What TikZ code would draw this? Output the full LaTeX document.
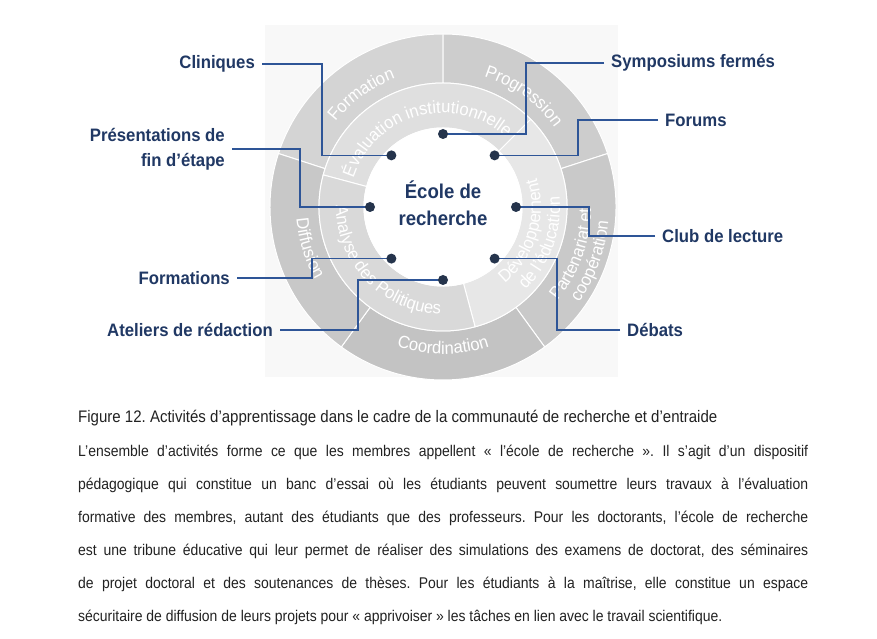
\documentclass[tikz,border=0pt]{standalone}
\usepackage{fontspec}
\setmainfont{Liberation Sans}
\newfontfamily\labelfont{Liberation Sans}[FakeStretch=0.93]
\newfontfamily\ringfont{Liberation Sans}[FakeStretch=0.95]
\newfontfamily\narrowfont{Liberation Sans}[FakeStretch=0.9]
\usetikzlibrary{calc}
\usetikzlibrary{decorations.text}
\frenchspacing

\definecolor{navy}{HTML}{203864}
\definecolor{wireblue}{HTML}{2E5597}
\definecolor{dotnavy}{HTML}{25344C}
\definecolor{panelgrey}{HTML}{F8F8F8}
\definecolor{bodygrey}{HTML}{222222}
\definecolor{formgrey}{HTML}{D4D4D4}
\definecolor{proggrey}{HTML}{CDCDCD}
\definecolor{partgrey}{HTML}{C9C9C9}
\definecolor{coordgrey}{HTML}{C3C3C3}
\definecolor{diffgrey}{HTML}{C8C8C8}
\definecolor{evalgrey}{HTML}{DFDFDF}
\definecolor{devgrey}{HTML}{E7E7E7}
\definecolor{polgrey}{HTML}{D9D9D9}

% text bent along a ring: radius, start, end, text
\newcommand\ringlabel[4]{%
  \path[decorate,decoration={text along path,text align=center,text color=white,
      text={|\ringfont\fontsize{17.5}{20}\selectfont|#4}}]
    ($(C)+(#2:#1)$) arc[start angle=#2,end angle=#3,radius=#1];}

\begin{document}
\begin{tikzpicture}[x=1pt,y=1pt,
    dot/.style={circle,fill=dotnavy,inner sep=0pt,minimum size=10pt},
    lbl/.style={font=\labelfont\bfseries\fontsize{18}{25}\selectfont,text=navy,inner xsep=7pt,inner ysep=2pt},
    wire/.style={draw=wireblue,line width=1.6pt},
    sector/.style={draw=white,line width=1pt}]
  \useasboundingbox (0,0) rectangle (877,639);
  \fill[white] (0,0) rectangle (877,639);
  \fill[panelgrey] (265,262) rectangle (618,614);
  \coordinate (C) at (443,432);

  % outer ring
  \foreach \a/\b/\c in {90/162/formgrey,18/90/proggrey,-54/18/partgrey,-126/-54/coordgrey,162/234/diffgrey}
    \filldraw[sector,fill=\c] ($(C)+(\a:173)$) arc[start angle=\a,end angle=\b,radius=173]
      -- ($(C)+(\b:124)$) arc[start angle=\b,end angle=\a,radius=124] -- cycle;
  % middle ring
  \foreach \a/\b/\c in {45/165/evalgrey,-75/45/devgrey,165/285/polgrey}
    \filldraw[sector,fill=\c] ($(C)+(\a:124)$) arc[start angle=\a,end angle=\b,radius=124]
      -- ($(C)+(\b:79)$) arc[start angle=\b,end angle=\a,radius=79] -- cycle;
  \filldraw[sector,fill=white] (C) circle[radius=79];

  \ringlabel{137}{165}{87}{Formation}
  \ringlabel{137}{93}{15}{Progression}
  \ringlabel{148}{-80}{40}{Partenariat et}
  \ringlabel{166}{-80}{40}{coopération}
  \ringlabel{147}{-150}{-30}{Coordination}
  \ringlabel{147}{137}{257}{Diffusion}
  \ringlabel{94}{175}{35}{Évaluation institutionnelle}
  \ringlabel{98}{-77}{43}{Développement}
  \ringlabel{117}{-80}{40}{de l’éducation}
  \ringlabel{107}{162}{286}{Analyse des Politiques}

  \node[font=\labelfont\bfseries\fontsize{20}{27}\selectfont,text=navy,align=center] (ecole) at (443,436) {École de\\recherche};

  \foreach \a in {0,45,...,315}
    \coordinate (p\a) at ($(C)+(\a:73)$);

  \node[lbl,anchor=east] (cliniques) at (262,575) {Cliniques};
  \node[lbl,anchor=east,align=right] (presentations) at (232,490) {Présentations de\\fin d’étape};
  \node[lbl,anchor=east] (formations) at (237,361) {Formations};
  \node[lbl,anchor=east] (ateliers) at (280,309) {Ateliers de rédaction};
  \node[lbl,anchor=west] (symposiums) at (604,576) {Symposiums fermés};
  \node[lbl,anchor=west] (forums) at (658,519) {Forums};
  \node[lbl,anchor=west] (club) at (655,403) {Club de lecture};
  \node[lbl,anchor=west] (debats) at (620,309) {Débats};

  \draw[wire] (cliniques.east) -- (322,0 |- cliniques.east) |- (p135);
  \draw[wire] (presentations.east) -- (300,0 |- presentations.east) |- (p180);
  \draw[wire] (formations.east) -- (312,0 |- formations.east) |- (p225);
  \draw[wire] (ateliers.east) -- (358,0 |- ateliers.east) |- (p270);
  \draw[wire] (symposiums.west) -- (526,0 |- symposiums.west) |- (p90);
  \draw[wire] (forums.west) -- (578,0 |- forums.west) |- (p45);
  \draw[wire] (club.west) -- (589,0 |- club.west) |- (p0);
  \draw[wire] (debats.west) -- (557,0 |- debats.west) |- (p315);

  \foreach \a in {0,45,...,315}
    \node[dot] (d\a) at (p\a) {};

  \node[anchor=west,inner sep=0pt,text=bodygrey,font=\narrowfont\fontsize{16.7}{18}\selectfont] (caption) at (78,221)
    {Figure 12. Activités d’apprentissage dans le cadre de la communauté de recherche et d’entraide};
  \node[anchor=north west,inner sep=0pt,text width=730pt,align=justify,text=bodygrey,font=\narrowfont\fontsize{15.5}{33}\selectfont] (body) at (78,194)
    {L’ensemble d’activités forme ce que les membres appellent «~l’école de recherche~». Il s’agit d’un dispositif\linebreak
     pédagogique qui constitue un banc d’essai où les étudiants peuvent soumettre leurs travaux à l’évaluation\linebreak
     formative des membres, autant des étudiants que des professeurs. Pour les doctorants, l’école de recherche\linebreak
     est une tribune éducative qui leur permet de réaliser des simulations des examens de doctorat, des séminaires\linebreak
     de projet doctoral et des soutenances de thèses. Pour les étudiants à la maîtrise, elle constitue un espace\linebreak
     sécuritaire de diffusion de leurs projets pour «~apprivoiser~» les tâches en lien avec le travail scientifique.};
\end{tikzpicture}
\end{document}
